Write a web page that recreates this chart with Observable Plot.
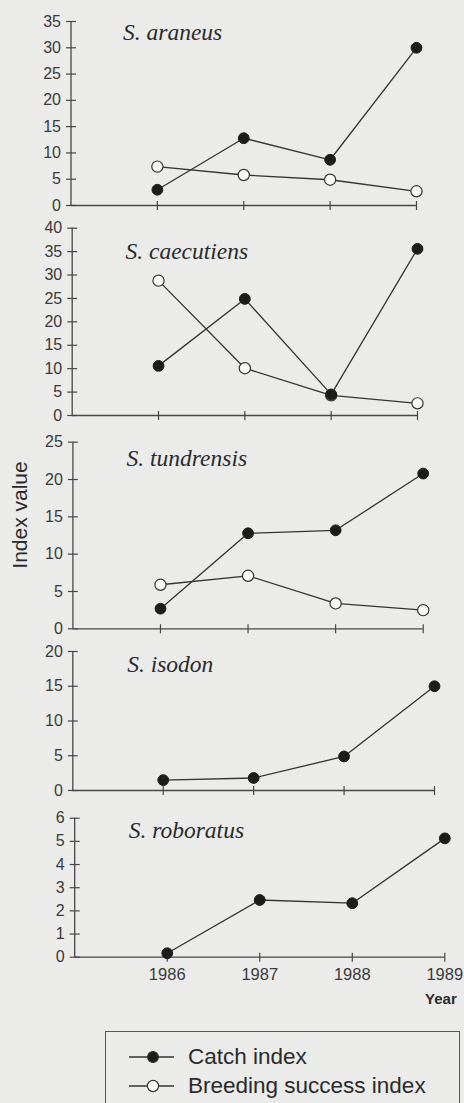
<!DOCTYPE html>
<html>
<head>
<meta charset="utf-8">
<script src="https://cdn.jsdelivr.net/npm/d3@7"></script>
<script src="https://cdn.jsdelivr.net/npm/@observablehq/plot@0.6"></script>
<style>
  html, body { margin: 0; padding: 0; background: #ebebea; }
  #chart { position: relative; width: 464px; height: 1103px; overflow: hidden; background: #ebebea; }
  .panel { position: absolute; left: 0; }
  .panel svg { overflow: visible; }
  #legend { position: absolute; left: 105px; top: 1031px; width: 355px; height: 90px; border: 1px solid #555; box-sizing: border-box; font-family: "Liberation Sans", Arial, sans-serif; font-size: 22.5px; color: #2a2a2a; }
  .row { position: absolute; left: 0; height: 28px; width: 350px; }
  .row svg { position: absolute; left: 22px; top: 0; }
  .row span { position: absolute; left: 82px; top: 1px; line-height: 26px; white-space: nowrap; }
</style>
</head>
<body>
<div id="chart"></div>
<script>
// ---- data ----
const years = [1986, 1987, 1988, 1989];
const xDomain = [1985, 1989];

const species = ["S. araneus", "S. caecutiens", "S. tundrensis", "S. isodon", "S. roboratus"];

const araneusCatch = [3.0, 12.8, 8.7, 30.0];
const araneusBreeding = [7.4, 5.8, 4.9, 2.7];
const caecutiensCatch = [10.6, 24.9, 4.5, 35.6];
const caecutiensBreeding = [28.8, 10.1, 4.3, 2.6];
const tundrensisCatch = [2.7, 12.8, 13.2, 20.8];
const tundrensisBreeding = [5.9, 7.1, 3.4, 2.5];
const isodonCatch = [1.5, 1.8, 4.9, 15.0];
const roboratusCatch = [0.17, 2.47, 2.33, 5.13];

const araneusTicks = [0, 5, 10, 15, 20, 25, 30, 35];
const caecutiensTicks = [0, 5, 10, 15, 20, 25, 30, 35, 40];
const tundrensisTicks = [0, 5, 10, 15, 20, 25];
const isodonTicks = [0, 5, 10, 15, 20];
const roboratusTicks = [0, 1, 2, 3, 4, 5, 6];

const seriesNames = ["Catch index", "Breeding success index"];
const yLabel = "Index value";
const xLabel = "Year";

// ---- drawing ----
const AXIS = "#474747";
const sans = "'Liberation Sans', Arial, sans-serif";

// tick glyphs crossing the axis lines
const vTick = {draw(ctx) { ctx.moveTo(0, -4.5); ctx.lineTo(0, 4.5); }};
const hTick = {draw(ctx) { ctx.moveTo(-5, 0); ctx.lineTo(5, 0); }};

function toRows(vals) { return vals ? years.map((year, i) => ({year, value: vals[i]})) : []; }

function panel(cfg) {
  const catchRows = toRows(cfg.catchVals);
  const breedRows = toRows(cfg.breedVals);
  const marks = [
    Plot.ruleY([0], {stroke: AXIS, strokeWidth: 1.3}),
    Plot.ruleX([xDomain[0]], {stroke: AXIS, strokeWidth: 1.3}),
    Plot.dot(cfg.yTicks, {x: () => xDomain[0], y: d => d, symbol: hTick, fill: "none", stroke: AXIS, strokeWidth: 1.2}),
    Plot.text(cfg.yTicks, {x: () => xDomain[0], y: d => d, text: d => String(d), textAnchor: "end", dx: -10, fontSize: 16, fill: "#3a3a3a", fontFamily: sans}),
    Plot.dot(years, {x: d => d, y: () => 0, symbol: vTick, fill: "none", stroke: AXIS, strokeWidth: 1.2}),
  ];
  if (cfg.showYears) {
    marks.push(Plot.text(years, {x: d => d, y: () => 0, text: d => String(d), lineAnchor: "top", dy: 11, fontSize: 16.5, fill: "#3a3a3a", fontFamily: sans}));
    marks.push(Plot.text([xLabel], {frameAnchor: "bottom-right", text: d => d, textAnchor: "end", lineAnchor: "bottom", dx: 12, dy: 47, fontWeight: "bold", fontSize: 15, fill: "#2a2a2a", fontFamily: sans}));
  }
  if (cfg.yLabel) {
    marks.push(Plot.text([cfg.yLabel], {frameAnchor: "left", text: d => d, rotate: -90, textAnchor: "middle", lineAnchor: "middle", dx: -53, dy: -20.5, fontSize: 21, fill: "#2a2a2a", fontFamily: sans}));
  }
  marks.push(
    Plot.text([cfg.name], {frameAnchor: "top-left", text: d => d, textAnchor: "start", lineAnchor: "bottom", dx: cfg.ndx, dy: cfg.ndy, fontSize: 23.5, fontStyle: "italic", fontFamily: "'Liberation Serif', 'Times New Roman', serif", fill: "#2a2a2a"}),
    Plot.line(breedRows, {x: "year", y: "value", stroke: "#333", strokeWidth: 1.3}),
    Plot.line(catchRows, {x: "year", y: "value", stroke: "#333", strokeWidth: 1.3}),
    Plot.dot(breedRows, {x: "year", y: "value", r: 5.6, fill: "#f9f9f9", stroke: "#333", strokeWidth: 1.2}),
    Plot.dot(catchRows, {x: "year", y: "value", r: 5.4, fill: "#1c1c1c", stroke: "#1c1c1c", strokeWidth: 1})
  );
  const svg = Plot.plot({
    width: 464,
    height: cfg.height,
    marginTop: cfg.mt, marginBottom: cfg.mb, marginLeft: cfg.ml, marginRight: cfg.mr,
    x: {domain: xDomain, axis: null},
    y: {domain: [0, cfg.yTicks[cfg.yTicks.length - 1]], axis: null},
    style: {background: "transparent", overflow: "visible", fontFamily: sans},
    marks
  });
  const wrap = document.createElement("div");
  wrap.className = "panel";
  wrap.style.top = cfg.top + "px";
  wrap.appendChild(svg);
  document.getElementById("chart").appendChild(wrap);
}

panel({top: 0, height: 230, mt: 21, mb: 25, ml: 70.5, mr: 48, yTicks: araneusTicks, name: species[0], catchVals: araneusCatch, breedVals: araneusBreeding, ndx: 52, ndy: 18.3});
panel({top: 210, height: 230, mt: 17.7, mb: 25, ml: 71.7, mr: 47, yTicks: caecutiensTicks, name: species[1], catchVals: caecutiensCatch, breedVals: caecutiensBreeding, ndx: 53.3, ndy: 30.6});
panel({top: 420, height: 235, mt: 21.7, mb: 26.7, ml: 72.4, mr: 41.3, yTicks: tundrensisTicks, name: species[2], catchVals: tundrensisCatch, breedVals: tundrensisBreeding, ndx: 53.6, ndy: 23.3, yLabel});
panel({top: 640, height: 175, mt: 11, mb: 25, ml: 72.3, mr: 30, yTicks: isodonTicks, name: species[3], catchVals: isodonCatch, breedVals: null, ndx: 54.4, ndy: 20});
panel({top: 800, height: 220, mt: 17.7, mb: 63.3, ml: 74.2, mr: 19.7, yTicks: roboratusTicks, name: species[4], catchVals: roboratusCatch, breedVals: null, ndx: 54, ndy: 20, showYears: true});

// ---- legend ----
const legend = document.createElement("div");
legend.id = "legend";
seriesNames.forEach((name, i) => {
  const row = document.createElement("div");
  row.className = "row";
  row.style.top = (i === 0 ? 11 : 40) + "px";
  const filled = i === 0;
  row.innerHTML = `<svg width="48" height="28" viewBox="0 0 48 28"><line x1="1" y1="14" x2="46" y2="14" stroke="#333" stroke-width="1.3"/><circle cx="25" cy="14" r="${filled ? 5.4 : 5.6}" fill="${filled ? "#1c1c1c" : "#f9f9f9"}" stroke="#333" stroke-width="1.2"/></svg><span>${name}</span>`;
  legend.appendChild(row);
});
document.getElementById("chart").appendChild(legend);
</script>
</body>
</html>
